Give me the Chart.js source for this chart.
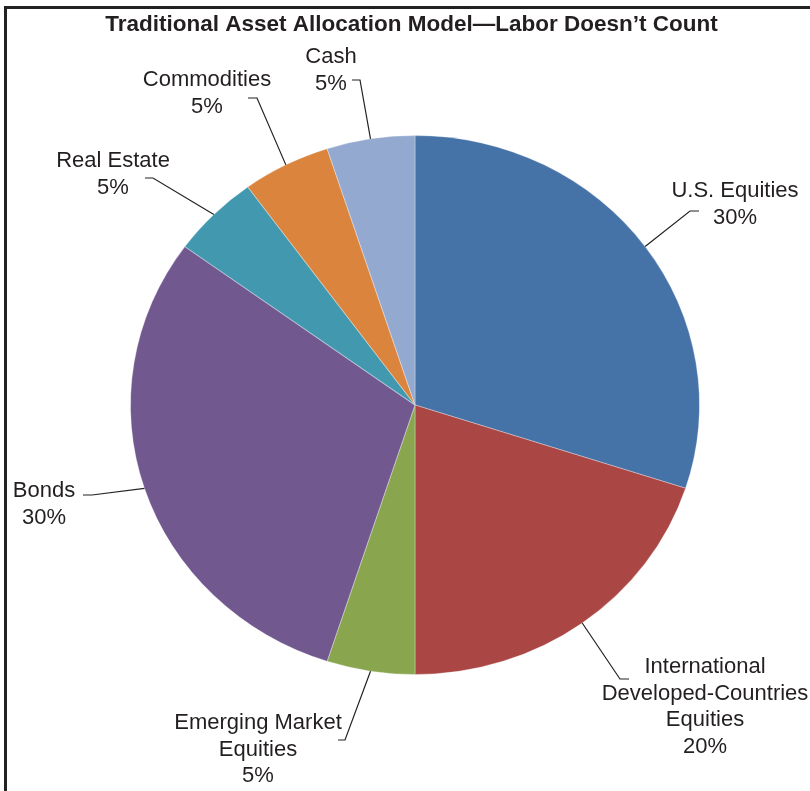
<!DOCTYPE html>
<html>
<head>
<meta charset="utf-8">
<script src="https://cdn.jsdelivr.net/npm/chart.js@4/dist/chart.umd.min.js"></script>
<style>
  html, body { margin: 0; padding: 0; background: #fff; }
  #wrap { width: 810px; height: 791px; }
</style>
</head>
<body>
<div id="wrap"><canvas id="allocChart" width="810" height="791"></canvas></div>
<script>
// Data
const categories = ['U.S. Equities', 'International Developed-Countries Equities', 'Emerging Market Equities',
                    'Bonds', 'Real Estate', 'Commodities', 'Cash'];
const shares = [30, 20, 5, 30, 5, 5, 5];
const sliceColors = ['#4572A7', '#AA4643', '#89A54E', '#71588F', '#4198AF', '#DB843D', '#93A9CF'];
// how each label is broken into lines
const labelLines = [
    ['U.S. Equities'],
    ['International', 'Developed-Countries', 'Equities'],
    ['Emerging Market', 'Equities'],
    ['Bonds'],
    ['Real Estate'],
    ['Commodities'],
    ['Cash']
];

const chartTitle = 'Traditional Asset Allocation Model\u2014Labor Doesn\u2019t Count';

// pie is a bit wider than tall in the original
const stretchX = 285 / 270;

// label layout: text centre x, first line y, where the leader elbow sits
const labelLayout = [
    { x: 735, y: 191, elbow: [699, 211, 690, 211] },
    { x: 705, y: 667, elbow: [629, 679, 620, 679] },
    { x: 258, y: 723, elbow: [338, 740, 345, 740] },
    { x: 44,  y: 491, elbow: [83, 495, 92, 495] },
    { x: 113, y: 161, elbow: [145, 178, 153, 178] },
    { x: 207, y: 80,  elbow: [248, 98, 257, 98] },
    { x: 331, y: 57,  elbow: [352, 80, 360, 80] }
];

const stretchPie = {
    id: 'stretchPie',
    beforeDatasetsDraw(chart) {
        const arc = chart.getDatasetMeta(0).data[0];
        const ctx = chart.ctx;
        ctx.save();
        ctx.translate(arc.x, arc.y);
        ctx.scale(stretchX, 1);
        ctx.translate(-arc.x, -arc.y);
    },
    afterDatasetsDraw(chart) {
        chart.ctx.restore();
    }
};

const decorations = {
    id: 'decorations',
    afterDraw(chart) {
        const ctx = chart.ctx;
        ctx.save();

        // frame
        ctx.strokeStyle = '#222';
        ctx.lineWidth = 3;
        ctx.beginPath();
        ctx.moveTo(5.5, 800);
        ctx.lineTo(5.5, 7.5);
        ctx.lineTo(820, 7.5);
        ctx.stroke();

        // title
        ctx.fillStyle = '#231f20';
        ctx.textAlign = 'center';
        ctx.textBaseline = 'middle';
        ctx.font = 'bold 22.5px "Liberation Sans", Arial, sans-serif';
        ctx.fillText(chartTitle, 411.5, 25);

        // labels + leaders
        const meta = chart.getDatasetMeta(0);
        ctx.font = '22px "Liberation Sans", Arial, sans-serif';
        ctx.lineWidth = 1.2;
        meta.data.forEach((arc, i) => {
            const lay = labelLayout[i];
            const lines = labelLines[i].concat([shares[i] + '%']);
            lines.forEach((t, k) => ctx.fillText(t, lay.x, lay.y + k * 26.5));

            const mid = (arc.startAngle + arc.endAngle) / 2;
            const ex = arc.x + Math.cos(mid) * arc.outerRadius * stretchX;
            const ey = arc.y + Math.sin(mid) * arc.outerRadius;
            const e = lay.elbow;
            ctx.beginPath();
            ctx.moveTo(e[0], e[1]);
            ctx.lineTo(e[2], e[3]);
            ctx.lineTo(ex, ey);
            ctx.stroke();
        });
        ctx.restore();
    }
};

new Chart(document.getElementById('allocChart').getContext('2d'), {
    type: 'pie',
    data: {
        labels: categories,
        datasets: [{
            data: shares,
            backgroundColor: sliceColors,
            borderColor: 'rgba(255,255,255,0.3)',
            borderWidth: 1
        }]
    },
    options: {
        responsive: false,
        animation: false,
        layout: { padding: { top: 135, bottom: 116, left: 20, right: 0 } },
        plugins: {
            legend: { display: false },
            tooltip: { enabled: false }
        }
    },
    plugins: [stretchPie, decorations]
});
</script>
</body>
</html>
